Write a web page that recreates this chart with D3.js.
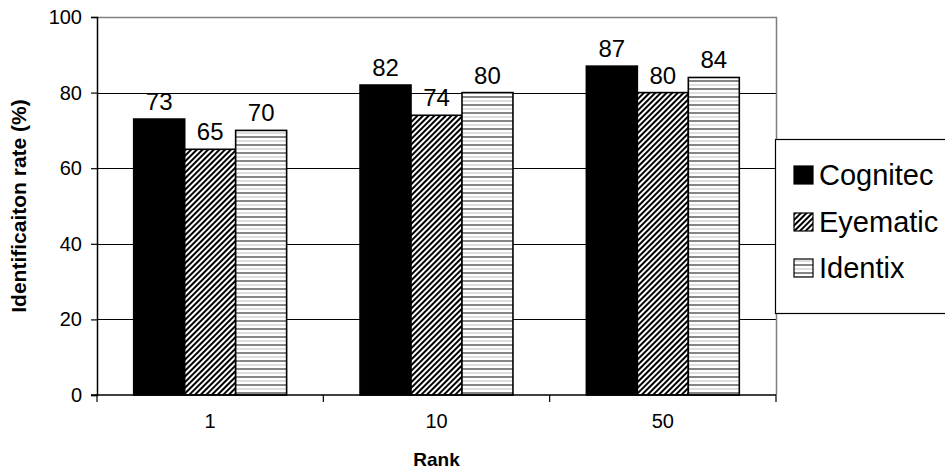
<!DOCTYPE html>
<html><head><meta charset="utf-8">
<script src="https://cdn.jsdelivr.net/npm/d3@7"></script>
<style>body{margin:0;background:#fff}svg{display:block;font-family:Arial,"Liberation Sans",sans-serif}</style>
</head><body><svg id="c" width="945" height="469"></svg>
<script>
const categories = ["1", "10", "50"];
const seriesNames = ["Cognitec", "Eyematic", "Identix"];
const cognitec = [73, 82, 87];
const eyematic = [65, 74, 80];
const identix = [70, 80, 84];
const yTicks = [0, 20, 40, 60, 80, 100];
const xTitle = "Rank";
const yTitle = "Identificaiton rate (%)";

const seriesValues = [cognitec, eyematic, identix];
const fills = ["#000", "url(#diag)", "url(#horiz)"];

const svg = d3.select("#c");
const L = 97, R = 776, T = 17, B = 395;

const defs = svg.append("defs");
const pd = defs.append("pattern").attr("id", "diag").attr("patternUnits", "userSpaceOnUse")
  .attr("width", 4).attr("height", 4).attr("patternTransform", "rotate(45)");
pd.append("rect").attr("width", 4).attr("height", 4).attr("fill", "#fff");
pd.append("line").attr("x1", 1).attr("x2", 1).attr("y1", 0).attr("y2", 4).attr("stroke", "#000").attr("stroke-width", 2);
const ph = defs.append("pattern").attr("id", "horiz").attr("patternUnits", "userSpaceOnUse")
  .attr("width", 8).attr("height", 8);
ph.append("rect").attr("width", 8).attr("height", 8).attr("fill", "#fff");
ph.append("line").attr("x1", 0).attr("x2", 8).attr("y1", 1).attr("y2", 1).attr("stroke", "#666").attr("stroke-width", 1.6);
ph.append("line").attr("x1", 0).attr("x2", 8).attr("y1", 5).attr("y2", 5).attr("stroke", "#c8c8c8").attr("stroke-width", 1.2);

const y = d3.scaleLinear().domain([0, 100]).range([B, T]);
const x0 = d3.scaleBand().domain(categories).range([L, R]).padding(0);
const x1 = d3.scaleBand().domain(seriesNames).range([0, x0.bandwidth()]).paddingInner(0).paddingOuter(0.72);

// gridlines
svg.append("g").selectAll("line").data(yTicks.filter(t => t > 0 && t < 100)).join("line")
  .attr("x1", L).attr("x2", R).attr("y1", d => Math.round(y(d)) + 0.5).attr("y2", d => Math.round(y(d)) + 0.5)
  .attr("stroke", "#000").attr("stroke-width", 1);
// plot border top/right grey
svg.append("path").attr("d", `M${L},${T + 0.5}H${R + 0.5}V${B}`).attr("fill", "none").attr("stroke", "#808080").attr("stroke-width", 1.5);

// bars
seriesNames.forEach((s, si) => {
  const g = svg.append("g");
  g.selectAll("rect").data(categories).join("rect")
    .attr("x", (c) => x0(c) + x1(s))
    .attr("y", (c, i) => y(seriesValues[si][i]))
    .attr("width", x1.bandwidth())
    .attr("height", (c, i) => B - y(seriesValues[si][i]))
    .attr("fill", fills[si]).attr("stroke", "#000").attr("stroke-width", 1.6);
  g.selectAll("text").data(categories).join("text")
    .attr("x", (c) => x0(c) + x1(s) + x1.bandwidth() / 2)
    .attr("y", (c, i) => y(seriesValues[si][i]) - 9)
    .attr("text-anchor", "middle").attr("font-size", 24).attr("fill", "#000")
    .text((c, i) => seriesValues[si][i]);
});

// y axis
const yAxis = d3.axisLeft(y).tickValues(yTicks).tickSize(6).tickPadding(9);
const gy = svg.append("g").attr("transform", `translate(${L},0)`).call(yAxis);
gy.select(".domain").attr("stroke", "#000").attr("stroke-width", 1.5);
gy.selectAll(".tick line").attr("stroke", "#000").attr("stroke-width", 1.2);
gy.selectAll(".tick text").attr("font-size", 20).attr("font-family", "Arial, 'Liberation Sans', sans-serif").attr("fill", "#000");

// x axis
const gx = svg.append("g").attr("transform", `translate(0,${B})`);
gx.append("line").attr("x1", L - 6).attr("x2", R).attr("y1", 0).attr("y2", 0).attr("stroke", "#000").attr("stroke-width", 1.5);
const bounds = categories.map(c => x0(c)).concat([x0(categories[categories.length - 1]) + x0.bandwidth()]);
gx.selectAll("line.tk").data(bounds).join("line").attr("class", "tk")
  .attr("x1", d => d).attr("x2", d => d).attr("y1", 0).attr("y2", 7).attr("stroke", "#000").attr("stroke-width", 1.2);
gx.selectAll("text").data(categories).join("text")
  .attr("x", c => x0(c) + x0.bandwidth() / 2).attr("y", 33)
  .attr("text-anchor", "middle").attr("font-size", 20).attr("fill", "#000").text(c => c);

// titles
svg.append("text").attr("x", (L + R) / 2).attr("y", 466).attr("text-anchor", "middle")
  .attr("font-size", 19).attr("font-weight", "bold").text(xTitle);
svg.append("text").attr("transform", `translate(26,${(T + B) / 2}) rotate(-90)`).attr("text-anchor", "middle")
  .attr("font-size", 21).attr("font-weight", "bold").text(yTitle);

// legend
const lg = svg.append("g");
lg.append("rect").attr("x", 775.5).attr("y", 139.5).attr("width", 200).attr("height", 174)
  .attr("fill", "#fff").attr("stroke", "#000").attr("stroke-width", 1.2);
const rowY = [175, 222, 268];
seriesNames.forEach((s, i) => {
  lg.append("rect").attr("x", 794).attr("y", rowY[i] - 9).attr("width", 19).attr("height", 18)
    .attr("fill", fills[i]).attr("stroke", "#000").attr("stroke-width", 1.2);
  lg.append("text").attr("x", 819).attr("y", rowY[i]).attr("dy", "0.36em")
    .attr("font-size", 29).attr("fill", "#000").text(s);
});
</script></body></html>
